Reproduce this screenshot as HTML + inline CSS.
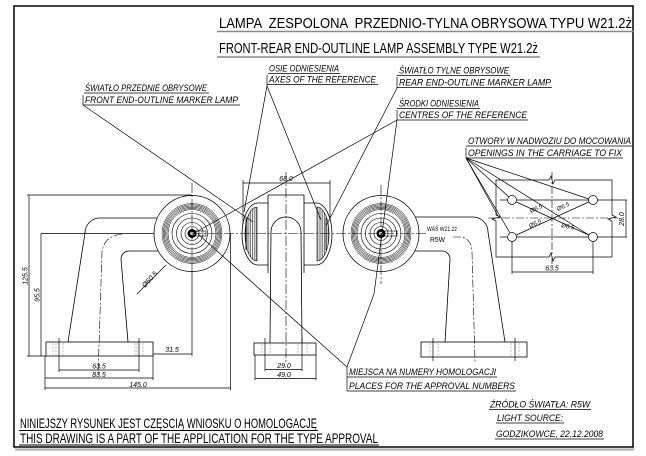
<!DOCTYPE html>
<html><head><meta charset="utf-8"><style>
html,body{margin:0;padding:0;background:#fff;}
svg{display:block;}
text{font-family:"Liberation Sans",sans-serif;fill:#000;stroke:none;}
.i{font-style:italic;}
</style></head><body>
<svg width="646" height="456" viewBox="0 0 646 456" xmlns="http://www.w3.org/2000/svg">
<defs>
<pattern id="h" width="1.8" height="4" patternUnits="userSpaceOnUse"><line x1="0.5" y1="0" x2="0.5" y2="4" stroke="#222" stroke-width="0.6"/></pattern>
</defs>
<rect width="646" height="456" fill="#fff"/>

<!-- frame -->
<rect x="14" y="6" width="619" height="441" fill="none" stroke="#000" stroke-width="1.5"/>
<line x1="15" y1="449.5" x2="634" y2="449.5" stroke="#aaa" stroke-width="2"/>

<!-- titles -->
<text x="219" y="28" font-size="15" textLength="413" lengthAdjust="spacingAndGlyphs" style="white-space:pre">LAMPA  ZESPOLONA  PRZEDNIO-TYLNA OBRYSOWA TYPU W21.2ż</text>
<line x1="217" y1="31.5" x2="634" y2="31.5" stroke="#888" stroke-width="1.6"/>
<text x="219" y="53" font-size="15" textLength="319" lengthAdjust="spacingAndGlyphs">FRONT-REAR END-OUTLINE LAMP ASSEMBLY TYPE W21.2ż</text>
<line x1="217" y1="57" x2="540" y2="57" stroke="#888" stroke-width="1.6"/>

<!-- labels -->
<g class="i" font-size="9">
<text class="i" x="85" y="91" textLength="122" lengthAdjust="spacingAndGlyphs">ŚWIATŁO PRZEDNIE OBRYSOWE</text>
<text class="i" x="85" y="103" textLength="153" lengthAdjust="spacingAndGlyphs">FRONT END-OUTLINE MARKER LAMP</text>
<text class="i" x="269" y="71.5" textLength="70" lengthAdjust="spacingAndGlyphs">OSIE ODNIESIENIA</text>
<text class="i" x="269" y="82.5" textLength="107" lengthAdjust="spacingAndGlyphs">AXES OF THE REFERENCE</text>
<text class="i" x="399" y="73.5" textLength="110" lengthAdjust="spacingAndGlyphs">ŚWIATŁO TYLNE OBRYSOWE</text>
<text class="i" x="399" y="85.5" textLength="152" lengthAdjust="spacingAndGlyphs">REAR END-OUTLINE MARKER LAMP</text>
<text class="i" x="399" y="106.5" textLength="80" lengthAdjust="spacingAndGlyphs">ŚRODKI ODNIESIENIA</text>
<text class="i" x="399" y="118" textLength="128" lengthAdjust="spacingAndGlyphs">CENTRES OF THE REFERENCE</text>
<text class="i" x="468" y="144" textLength="163" lengthAdjust="spacingAndGlyphs">OTWORY W NADWOZIU DO MOCOWANIA</text>
<text class="i" x="468" y="156" textLength="154" lengthAdjust="spacingAndGlyphs">OPENINGS IN THE CARRIAGE TO FIX</text>
<text class="i" x="349" y="375" textLength="147" lengthAdjust="spacingAndGlyphs">MIEJSCA NA NUMERY HOMOLOGACJI</text>
<text class="i" x="349" y="389" textLength="166" lengthAdjust="spacingAndGlyphs">PLACES FOR THE APPROVAL NUMBERS</text>
<text class="i" x="490" y="407.5" textLength="100" lengthAdjust="spacingAndGlyphs">ŹRÓDŁO ŚWIATŁA: R5W</text>
<text class="i" x="497" y="421" textLength="66" lengthAdjust="spacingAndGlyphs">LIGHT SOURCE:</text>
<text class="i" x="496" y="437" textLength="107" lengthAdjust="spacingAndGlyphs">GODZIKOWCE, 22.12.2008</text>
</g>
<text x="20" y="428" font-size="14" textLength="297" lengthAdjust="spacingAndGlyphs">NINIEJSZY RYSUNEK JEST CZĘSCIĄ WNIOSKU O HOMOLOGACJĘ</text>
<text x="20" y="443" font-size="14" textLength="358" lengthAdjust="spacingAndGlyphs">THIS DRAWING IS A PART OF THE APPLICATION FOR THE TYPE APPROVAL</text>

<g stroke="#000" stroke-width="0.7" fill="none">
<!-- label underlines and bars -->
<line x1="84" y1="93" x2="209" y2="93"/>
<line x1="83" y1="105" x2="240" y2="105"/><line x1="83" y1="95" x2="83" y2="105"/>
<line x1="268" y1="73.5" x2="340" y2="73.5"/>
<line x1="267" y1="84.5" x2="378" y2="84.5"/><line x1="267" y1="75" x2="267" y2="86"/>
<line x1="397" y1="75.5" x2="510" y2="75.5"/>
<line x1="397" y1="87.5" x2="552" y2="87.5"/><line x1="397" y1="77" x2="397" y2="88"/>
<line x1="397" y1="108.5" x2="480" y2="108.5"/>
<line x1="397" y1="120" x2="528" y2="120"/><line x1="397" y1="110" x2="397" y2="120"/>
<line x1="466" y1="146" x2="632" y2="146"/>
<line x1="466" y1="158" x2="623" y2="158"/><line x1="466" y1="148" x2="466" y2="158"/>
<line x1="347" y1="377" x2="497" y2="377"/>
<line x1="347" y1="391" x2="516" y2="391"/><line x1="347" y1="367" x2="347" y2="391"/>
<line x1="489" y1="409.5" x2="591" y2="409.5"/>
<line x1="496" y1="423" x2="564" y2="423"/>
<line x1="495" y1="439" x2="604" y2="439"/>
<line x1="19" y1="430.5" x2="318" y2="430.5" stroke-width="1"/>
<line x1="19" y1="445" x2="379" y2="445" stroke-width="1"/>

<!-- left bracket -->
<path d="M160,218 H100 A15 15 0 0 0 85,233 L68,342" stroke-width="0.8"/>
<path d="M160,251 H129 A8 8 0 0 0 121,259 L128,342" stroke-width="0.8"/>
<path d="M122,234 Q104,236 102,252 L98,377" stroke-dasharray="8,2,2,2" stroke-width="0.6"/>
<rect x="46" y="342" width="107" height="14" stroke-width="0.8"/>
<g stroke="#777" stroke-width="0.5" stroke-dasharray="2,1.5">
<line x1="53" y1="343" x2="53" y2="355"/><line x1="56" y1="343" x2="56" y2="355"/><line x1="63" y1="343" x2="63" y2="355"/>
<line x1="135" y1="343" x2="135" y2="355"/><line x1="137" y1="343" x2="137" y2="355"/><line x1="143" y1="343" x2="143" y2="355"/>
</g>
<line x1="59" y1="338" x2="59" y2="372"/><line x1="139" y1="338" x2="139" y2="372"/>

<!-- right bracket -->
<path d="M410,217 H473 A15 15 0 0 1 488,232 L505,342" stroke-width="0.8"/>
<path d="M410,251 H442 A8 8 0 0 1 450,259 L445,342" stroke-width="0.8"/>
<path d="M453,237 H462 Q472,240 472,252 L475,362" stroke-dasharray="8,2,2,2" stroke-width="0.6"/>
<rect x="421" y="342" width="106" height="15" stroke-width="0.8"/>
<g stroke="#777" stroke-width="0.5" stroke-dasharray="2,1.5">
<line x1="430" y1="343" x2="430" y2="356"/><line x1="438" y1="343" x2="438" y2="356"/>
<line x1="511" y1="343" x2="511" y2="356"/><line x1="519" y1="343" x2="519" y2="356"/>
</g>
<line x1="433" y1="338" x2="433" y2="361"/><line x1="515" y1="338" x2="515" y2="361"/>

<!-- middle base -->
<rect x="254" y="343" width="62" height="12" stroke-width="0.8"/>
<g stroke="#777" stroke-width="0.5" stroke-dasharray="2,1.5">
<line x1="262" y1="344" x2="262" y2="354"/><line x1="270" y1="344" x2="270" y2="354"/>
<line x1="298" y1="344" x2="298" y2="354"/><line x1="307" y1="344" x2="307" y2="354"/>
</g>
<line x1="265" y1="338" x2="265" y2="371"/><line x1="302" y1="338" x2="302" y2="371"/>
<line x1="255" y1="355" x2="255" y2="380"/><line x1="316" y1="355" x2="316" y2="380"/>
<line x1="265" y1="369.5" x2="302" y2="369.5"/>
<line x1="255" y1="378.5" x2="316" y2="378.5"/>

<!-- left dims -->
<line x1="29" y1="195" x2="29" y2="356"/>
<line x1="27" y1="195" x2="192" y2="195"/>
<line x1="27" y1="356" x2="46" y2="356"/>
<line x1="41" y1="233.5" x2="41" y2="356"/>
<line x1="41" y1="233.5" x2="192" y2="233.5"/>
<line x1="153" y1="354" x2="192" y2="354"/>
<line x1="192" y1="272" x2="192" y2="356"/>
<line x1="230.5" y1="233.5" x2="230.5" y2="390"/>
<line x1="45" y1="356" x2="45" y2="390"/>
<line x1="153" y1="356" x2="153" y2="380"/>
<line x1="45" y1="388" x2="231" y2="388"/>
<line x1="45" y1="378" x2="153" y2="378"/>
<line x1="59" y1="370" x2="139" y2="370"/>
<line x1="166" y1="265" x2="137" y2="294"/>

<!-- 68.0 dim -->
<line x1="243" y1="183" x2="330" y2="183"/>
<line x1="243" y1="180" x2="243" y2="233"/>
<line x1="330" y1="180" x2="330" y2="233"/>
</g>

<!-- middle lamp cylinder -->
<path d="M258,203 H316 A16 31 0 0 1 316,265 H258 A16 31 0 0 1 258,203 Z" fill="#fff" stroke="#000" stroke-width="0.8"/>
<path d="M257,207 A12 27 0 0 0 257,261 Z" fill="url(#h)" stroke="#000" stroke-width="0.6"/>
<path d="M317,207 A12 27 0 0 1 317,261 Z" fill="url(#h)" stroke="#000" stroke-width="0.6"/>
<path d="M246,218 V250 M326,218 V250" stroke="#000" stroke-width="0.8"/>
<path d="M268,273 V195 H304 V273" fill="#fff" stroke="#000" stroke-width="0.8"/>
<path d="M270,343 L271,232 A15 15 0 0 1 301,232 L302,343" fill="none" stroke="#000" stroke-width="0.8"/>

<!-- lamps -->
<g transform="translate(192,233.5)" fill="none" stroke="#000">
<circle r="38" fill="#fff" stroke-width="0.8"/>
<g stroke-width="0.5"><circle r="30"/><circle r="28.8"/><circle r="27.6"/><circle r="26.4"/><circle r="25.2"/><circle r="24"/></g>
<g stroke-width="0.6"><circle r="20"/><circle r="15.5"/><circle r="11"/><circle r="7"/></g>
<circle r="4" fill="#000"/><circle r="1.8" fill="#fff" stroke="none"/>
<rect x="2" y="-2.5" width="12" height="5" stroke-width="0.6"/>
</g>
<g transform="translate(381,233.5)" fill="none" stroke="#000">
<circle r="38" fill="#fff" stroke-width="0.8"/>
<g stroke-width="0.5"><circle r="30"/><circle r="28.8"/><circle r="27.6"/><circle r="26.4"/><circle r="25.2"/><circle r="24"/></g>
<g stroke-width="0.6"><circle r="20"/><circle r="15.5"/><circle r="11"/><circle r="7"/></g>
<circle r="4" fill="#000"/><circle r="1.8" fill="#fff" stroke="none"/>
<rect x="2" y="-2.5" width="14" height="5" stroke-width="0.6"/>
</g>

<!-- axes -->
<g stroke="#000" stroke-width="0.6" fill="none" stroke-dasharray="10,2,2,2">
<line x1="192" y1="233.5" x2="428" y2="233.5"/>
<line x1="192" y1="183" x2="192" y2="272"/>
<line x1="286" y1="172" x2="286" y2="362"/>
<line x1="381" y1="185" x2="381" y2="284"/>
</g>

<!-- leaders -->
<g stroke="#000" stroke-width="0.7">
<line x1="83" y1="105" x2="253" y2="222"/>
<line x1="267" y1="86" x2="244" y2="212"/>
<line x1="267" y1="86" x2="321" y2="220"/>
<line x1="397" y1="88" x2="326" y2="226"/>
<line x1="397" y1="120" x2="196" y2="232"/>
<line x1="397" y1="120" x2="374" y2="294"/>
<line x1="347" y1="367" x2="198" y2="234"/>
<line x1="347" y1="367" x2="374" y2="294"/>
<line x1="466" y1="158" x2="509" y2="197"/>
<line x1="466" y1="158" x2="510" y2="233"/>
<line x1="466" y1="158" x2="589" y2="199"/>
<line x1="466" y1="158" x2="589" y2="235"/>
<line x1="466" y1="158" x2="498" y2="216"/>
</g>

<!-- holes box -->
<g stroke="#000" stroke-width="0.7" fill="none">
<path d="M496,180 H549 L551,176 L553,184 L555,180 H612 V215 L616,217 L608,219 L612,221 V257 H555 L553,261 L551,253 L549,257 H496 V221 L492,219 L500,217 L496,215 Z"/>
<line x1="500" y1="200" x2="627" y2="200"/>
<line x1="500" y1="237" x2="627" y2="237"/>
<line x1="626" y1="200" x2="626" y2="237"/>
<line x1="512" y1="237" x2="512" y2="274"/>
<line x1="593" y1="237" x2="593" y2="274"/>
<line x1="512" y1="272" x2="593" y2="272"/>
<line x1="512" y1="200" x2="593" y2="237"/>
<line x1="512" y1="237" x2="593" y2="200"/>
<circle cx="512" cy="200" r="4.5" fill="#fff"/>
<circle cx="593" cy="200" r="4.5" fill="#fff"/>
<circle cx="512" cy="237" r="4.5" fill="#fff"/>
<circle cx="593" cy="237" r="4.5" fill="#fff"/>
</g>
<g stroke="#000" stroke-width="0.6" stroke-dasharray="8,2,2,2">
<line x1="488" y1="218" x2="618" y2="218"/>
<line x1="552" y1="172" x2="552" y2="264"/>
</g>

<!-- dimension texts -->
<g font-size="7" font-style="italic">
<text class="i" x="286" y="181" text-anchor="middle">68.0</text>
<text class="i" transform="translate(145,288) rotate(-48)" font-size="7">Ø60.5</text>
<text class="i" transform="translate(27.5,276) rotate(-90)" text-anchor="middle">125.5</text>
<text class="i" transform="translate(39.5,295) rotate(-90)" text-anchor="middle">95.5</text>
<text class="i" x="172" y="352" text-anchor="middle">31.5</text>
<text class="i" x="99" y="368.5" text-anchor="middle">63.5</text>
<text class="i" x="99" y="377" text-anchor="middle">83.5</text>
<text class="i" x="138" y="387" text-anchor="middle">145.0</text>
<text class="i" x="284" y="368" text-anchor="middle">29.0</text>
<text class="i" x="284" y="377" text-anchor="middle">49.0</text>
<text class="i" x="552" y="270.5" text-anchor="middle">63.5</text>
<text class="i" transform="translate(624,219) rotate(-90)" text-anchor="middle">28.0</text>
<text class="i" transform="translate(531,213) rotate(-25)" font-size="6">Ø6.5</text>
<text class="i" transform="translate(558,211) rotate(-25)" font-size="6">Ø6.5</text>
<text class="i" transform="translate(530,228) rotate(-25)" font-size="6">Ø6.5</text>
<text class="i" transform="translate(561,227) rotate(12)" font-size="6">Ø6.5</text>
</g>
<text x="427" y="231" font-size="6.5" textLength="30" lengthAdjust="spacingAndGlyphs">WAŚ W21.2ż</text>
<text x="430" y="242" font-size="7.5" textLength="15" lengthAdjust="spacingAndGlyphs">R5W</text>
</svg>
</body></html>
